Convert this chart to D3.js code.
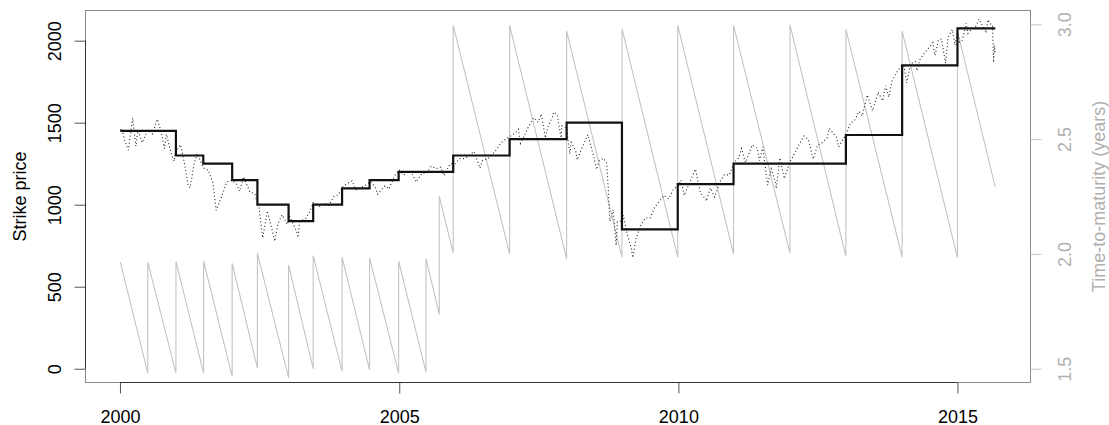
<!DOCTYPE html>
<html>
<head>
<meta charset="utf-8">
<script src="https://cdn.jsdelivr.net/npm/d3@7"></script>
<style>
  body { margin: 0; background: #fff; }
  svg text { font-family: 'Liberation Sans', Arial, Helvetica, sans-serif; }
</style>
</head>
<body>
<div id="chart"></div>
<script>
'use strict'

// strike price of the rolled contract (step line)
const strikeDates = ['2000-01-03', '2001-01-01', '2001-06-29', '2002-01-04', '2002-06-18', '2003-01-08',
  '2003-06-18', '2003-12-24', '2004-06-21', '2004-12-28', '2005-12-20', '2006-12-24', '2008-01-01',
  '2008-12-28', '2009-12-28', '2010-12-28', '2013-01-01', '2014-01-04', '2015-01-01']
const strikeLevels = [1450, 1300, 1250, 1150, 1000, 900, 1000, 1100, 1150, 1200, 1300, 1400, 1500,
  850, 1125, 1250, 1425, 1850, 2075]
const lastDate = '2015-09-05'

// time-to-maturity (right axis), vertices of the saw-tooth
const maturityDates = [
  '2000-01-03', '2000-07-01', '2000-07-01', '2001-01-01', '2001-01-01', '2001-07-01',
  '2001-07-01', '2002-01-04', '2002-01-04', '2002-06-18', '2002-06-18', '2003-01-08',
  '2003-01-08', '2003-06-18', '2003-06-18', '2003-12-24', '2003-12-24', '2004-06-21',
  '2004-06-21', '2004-12-28', '2004-12-28', '2005-06-25', '2005-06-25', '2005-09-20',
  '2005-09-20', '2005-12-20', '2005-12-20', '2006-12-24', '2006-12-24', '2008-01-01',
  '2008-01-01', '2008-12-28', '2008-12-28', '2009-12-28', '2009-12-28', '2010-12-28',
  '2010-12-28', '2012-01-01', '2012-01-01', '2013-01-01', '2013-01-01', '2014-01-04',
  '2014-01-04', '2015-01-01', '2015-01-01', '2015-09-05']
const maturityYears = [
  1.964, 1.481, 1.964, 1.481, 1.967, 1.481,
  1.968, 1.467, 1.959, 1.502, 2.003, 1.461,
  1.952, 1.500, 1.993, 1.488, 1.986, 1.494,
  1.983, 1.481, 1.968, 1.485, 1.979, 1.737,
  2.250, 2.005, 2.995, 2.000, 2.995, 1.979,
  2.970, 1.986, 2.981, 1.986, 2.995, 2.000,
  2.995, 2.005, 2.998, 1.989, 2.978, 1.986,
  2.970, 1.983, 2.970, 2.291]

// underlying index level (dotted)
const indexLevels = [
  ['2000-01-03', 1455], ['2000-01-14', 1465], ['2000-01-31', 1394], ['2000-02-25', 1333], ['2000-03-24', 1527],
  ['2000-04-14', 1357], ['2000-04-28', 1452], ['2000-05-26', 1378], ['2000-06-30', 1455], ['2000-07-31', 1431],
  ['2000-09-01', 1521], ['2000-09-29', 1437], ['2000-10-18', 1342], ['2000-10-31', 1429], ['2000-11-30', 1315],
  ['2000-12-20', 1265], ['2000-12-29', 1320],
  ['2001-01-31', 1366], ['2001-02-28', 1240], ['2001-03-22', 1118], ['2001-04-04', 1103], ['2001-04-30', 1249],
  ['2001-05-21', 1313], ['2001-06-29', 1224], ['2001-07-31', 1211], ['2001-08-31', 1134], ['2001-09-21', 966],
  ['2001-10-31', 1060], ['2001-11-30', 1139], ['2001-12-31', 1148],
  ['2002-01-31', 1130], ['2002-02-21', 1081], ['2002-03-19', 1170], ['2002-04-30', 1077], ['2002-05-31', 1067],
  ['2002-06-28', 990], ['2002-07-23', 797], ['2002-08-22', 962], ['2002-09-30', 815], ['2002-10-09', 777],
  ['2002-10-31', 886], ['2002-11-27', 938], ['2002-12-31', 880],
  ['2003-01-14', 931], ['2003-02-28', 841], ['2003-03-11', 800], ['2003-03-21', 895], ['2003-04-30', 917],
  ['2003-05-30', 964], ['2003-06-17', 1011], ['2003-07-31', 990], ['2003-08-29', 1008], ['2003-09-30', 996],
  ['2003-10-31', 1051], ['2003-11-28', 1058], ['2003-12-31', 1112],
  ['2004-01-30', 1131], ['2004-02-27', 1145], ['2004-03-24', 1091], ['2004-04-30', 1107], ['2004-05-31', 1121],
  ['2004-06-30', 1141], ['2004-07-30', 1102], ['2004-08-12', 1064], ['2004-09-30', 1115], ['2004-10-25', 1095],
  ['2004-11-30', 1174], ['2004-12-31', 1212],
  ['2005-01-31', 1181], ['2005-02-28', 1204], ['2005-03-31', 1181], ['2005-04-20', 1138], ['2005-05-31', 1192],
  ['2005-06-30', 1191], ['2005-07-29', 1234], ['2005-08-31', 1220], ['2005-09-30', 1229], ['2005-10-20', 1177],
  ['2005-11-30', 1249], ['2005-12-30', 1248],
  ['2006-01-31', 1280], ['2006-02-28', 1281], ['2006-03-31', 1295], ['2006-05-05', 1325], ['2006-06-13', 1223],
  ['2006-06-30', 1270], ['2006-07-31', 1277], ['2006-08-31', 1304], ['2006-09-29', 1336], ['2006-10-31', 1378],
  ['2006-11-30', 1401], ['2006-12-29', 1418],
  ['2007-01-31', 1438], ['2007-02-20', 1460], ['2007-03-05', 1374], ['2007-03-30', 1421], ['2007-04-30', 1482],
  ['2007-05-31', 1531], ['2007-06-29', 1503], ['2007-07-19', 1553], ['2007-08-15', 1407], ['2007-08-31', 1474],
  ['2007-09-28', 1527], ['2007-10-09', 1565], ['2007-10-31', 1549], ['2007-11-26', 1407], ['2007-11-30', 1481],
  ['2007-12-31', 1468],
  ['2008-01-22', 1311], ['2008-01-31', 1379], ['2008-02-29', 1331], ['2008-03-10', 1273], ['2008-03-31', 1323],
  ['2008-04-30', 1386], ['2008-05-19', 1427], ['2008-06-30', 1280], ['2008-07-15', 1215], ['2008-07-31', 1267],
  ['2008-08-29', 1283], ['2008-09-19', 1255], ['2008-09-29', 1106], ['2008-10-10', 899], ['2008-10-31', 969],
  ['2008-11-20', 752], ['2008-11-28', 896], ['2008-12-31', 903],
  ['2009-01-06', 935], ['2009-01-30', 826], ['2009-02-27', 735], ['2009-03-09', 677], ['2009-03-31', 798],
  ['2009-04-30', 873], ['2009-05-29', 919], ['2009-06-30', 919], ['2009-07-31', 987], ['2009-08-31', 1021],
  ['2009-09-30', 1057], ['2009-10-30', 1036], ['2009-11-30', 1096], ['2009-12-31', 1115],
  ['2010-01-19', 1150], ['2010-02-08', 1056], ['2010-03-31', 1169], ['2010-04-23', 1217], ['2010-05-25', 1074],
  ['2010-06-30', 1031], ['2010-07-02', 1022], ['2010-07-30', 1102], ['2010-08-26', 1047], ['2010-09-30', 1141],
  ['2010-10-29', 1183], ['2010-11-30', 1181], ['2010-12-31', 1258],
  ['2011-01-31', 1286], ['2011-02-18', 1343], ['2011-03-16', 1257], ['2011-04-29', 1364], ['2011-05-31', 1345],
  ['2011-06-16', 1268], ['2011-07-07', 1353], ['2011-08-08', 1119], ['2011-08-31', 1219], ['2011-09-30', 1131],
  ['2011-10-03', 1099], ['2011-10-27', 1285], ['2011-11-25', 1159], ['2011-12-30', 1258],
  ['2012-01-31', 1312], ['2012-02-29', 1366], ['2012-04-02', 1419], ['2012-04-30', 1398], ['2012-06-01', 1278],
  ['2012-06-29', 1362], ['2012-07-31', 1379], ['2012-08-31', 1407], ['2012-09-14', 1465], ['2012-10-31', 1412],
  ['2012-11-15', 1353], ['2012-12-31', 1426],
  ['2013-01-31', 1498], ['2013-02-28', 1515], ['2013-03-28', 1569], ['2013-04-18', 1541], ['2013-05-21', 1669],
  ['2013-06-24', 1573], ['2013-07-31', 1686], ['2013-08-30', 1633], ['2013-09-18', 1725], ['2013-10-08', 1656],
  ['2013-10-31', 1757], ['2013-11-29', 1806], ['2013-12-31', 1848],
  ['2014-01-15', 1848], ['2014-02-03', 1742], ['2014-02-28', 1859], ['2014-03-31', 1872], ['2014-04-11', 1816],
  ['2014-04-30', 1884], ['2014-05-30', 1924], ['2014-06-30', 1960], ['2014-07-24', 1988], ['2014-08-07', 1910],
  ['2014-08-29', 2003], ['2014-09-18', 2011], ['2014-10-15', 1862], ['2014-10-31', 2018], ['2014-11-28', 2068],
  ['2014-12-16', 1973], ['2014-12-31', 2059],
  ['2015-01-15', 1992], ['2015-01-30', 1995], ['2015-02-27', 2105], ['2015-03-10', 2044], ['2015-03-31', 2068],
  ['2015-04-30', 2086], ['2015-05-21', 2131], ['2015-06-30', 2063], ['2015-07-08', 2047], ['2015-07-20', 2128],
  ['2015-07-31', 2104], ['2015-08-18', 2097], ['2015-08-25', 1868], ['2015-08-31', 1972], ['2015-09-04', 1921]
]

const yearTicks = [2000, 2005, 2010, 2015]
const strikeTicks = [0, 500, 1000, 1500, 2000]
const maturityTicks = [1.5, 2.0, 2.5, 3.0]

const width = 1109
const height = 425
const box = { left: 85.5, right: 1030.5, top: 10.5, bottom: 382.5 }

const parse = d3.utcParse('%Y-%m-%d')
const fromYear = (y) => {
  const yr = Math.floor(y)
  const a = Date.UTC(yr, 0, 1)
  const b = Date.UTC(yr + 1, 0, 1)
  return new Date(a + (y - yr) * (b - a))
}

const x = d3.scaleUtc()
  .domain([fromYear(1999.382), fromYear(2016.308)])
  .range([box.left, box.right])
const y = d3.scaleLinear().domain([-84, 2184]).range([box.bottom, box.top])
const y2 = d3.scaleLinear().domain([1.44, 3.06]).range([box.bottom, box.top])

const svg = d3.select('#chart')
  .append('svg')
  .attr('width', width)
  .attr('height', height)

svg.append('defs').append('clipPath')
  .attr('id', 'plot-clip')
  .append('rect')
  .attr('x', box.left)
  .attr('y', box.top)
  .attr('width', box.right - box.left)
  .attr('height', box.bottom - box.top)

const plot = svg.append('g').attr('clip-path', 'url(#plot-clip)')

// saw-tooth time-to-maturity, grey
const maturity = maturityDates.map((d, i) => [parse(d), maturityYears[i]])
plot.append('path')
  .datum(maturity)
  .attr('fill', 'none')
  .attr('stroke', '#c4c4c4')
  .attr('stroke-width', 1.1)
  .attr('d', d3.line().x(d => x(d[0])).y(d => y2(d[1])))

// index level, dotted
plot.append('path')
  .datum(indexLevels.map(d => [parse(d[0]), d[1]]))
  .attr('fill', 'none')
  .attr('stroke', '#222')
  .attr('stroke-width', 1.1)
  .attr('stroke-dasharray', '1,2.5')
  .attr('d', d3.line().x(d => x(d[0])).y(d => y(d[1])))

// strike, step line
const strike = strikeDates.map((d, i) => [parse(d), strikeLevels[i]])
strike.push([parse(lastDate), strikeLevels[strikeLevels.length - 1]])
plot.append('path')
  .datum(strike)
  .attr('fill', 'none')
  .attr('stroke', '#111')
  .attr('stroke-width', 2.2)
  .attr('d', d3.line().curve(d3.curveStepAfter).x(d => x(d[0])).y(d => y(d[1])))

// box
svg.append('rect')
  .attr('x', box.left)
  .attr('y', box.top)
  .attr('width', box.right - box.left)
  .attr('height', box.bottom - box.top)
  .attr('fill', 'none')
  .attr('stroke', '#8a8a8a')

// bottom axis
const xTickDates = yearTicks.map(v => fromYear(v))
const xAxis = svg.append('g')
  .attr('transform', `translate(0,${box.bottom})`)
  .call(d3.axisBottom(x).tickValues(xTickDates).tickFormat(d3.utcFormat('%Y')).tickSize(11))
xAxis.select('.domain').remove()
xAxis.selectAll('.tick line').attr('stroke', '#555')
xAxis.selectAll('.tick text')
  .attr('dy', null)
  .attr('y', 40)
  .attr('fill', '#000')
  .style('font-size', '18px')
xAxis.append('line')
  .attr('x1', x(xTickDates[0])).attr('x2', x(xTickDates[xTickDates.length - 1]))
  .attr('stroke', '#333')

// left axis
const yAxis = svg.append('g')
  .attr('transform', `translate(${box.left},0)`)
  .call(d3.axisLeft(y).tickValues(strikeTicks).tickFormat(d3.format('d')).tickSize(11))
yAxis.select('.domain').remove()
yAxis.selectAll('.tick line').attr('stroke', '#555')
yAxis.selectAll('.tick text')
  .attr('x', 0)
  .attr('dy', null)
  .attr('y', -25)
  .attr('transform', 'rotate(-90)')
  .attr('text-anchor', 'middle')
  .attr('fill', '#000')
  .style('font-size', '18px')
yAxis.append('line')
  .attr('y1', y(strikeTicks[0])).attr('y2', y(strikeTicks[strikeTicks.length - 1]))
  .attr('stroke', '#333')

// right axis, grey
const rAxis = svg.append('g')
  .attr('transform', `translate(${box.right},0)`)
  .call(d3.axisRight(y2).tickValues(maturityTicks).tickFormat(d3.format('.1f')).tickSize(11))
rAxis.select('.domain').remove()
rAxis.selectAll('.tick line').attr('stroke', '#c4c4c4')
rAxis.selectAll('.tick text')
  .attr('x', 0)
  .attr('dy', null)
  .attr('y', 40)
  .attr('transform', 'rotate(-90)')
  .attr('text-anchor', 'middle')
  .attr('fill', '#b0b0b0')
  .style('font-size', '18px')

// axis titles
svg.append('text')
  .attr('transform', `translate(25.5,${(box.top + box.bottom) / 2}) rotate(-90)`)
  .attr('text-anchor', 'middle')
  .style('font-size', '18px')
  .attr('fill', '#000')
  .text('Strike price')

svg.append('text')
  .attr('transform', `translate(1104.5,${(box.top + box.bottom) / 2}) rotate(-90)`)
  .attr('text-anchor', 'middle')
  .style('font-size', '18px')
  .attr('fill', '#b0b0b0')
  .text('Time-to-maturity (years)')
</script>
</body>
</html>
